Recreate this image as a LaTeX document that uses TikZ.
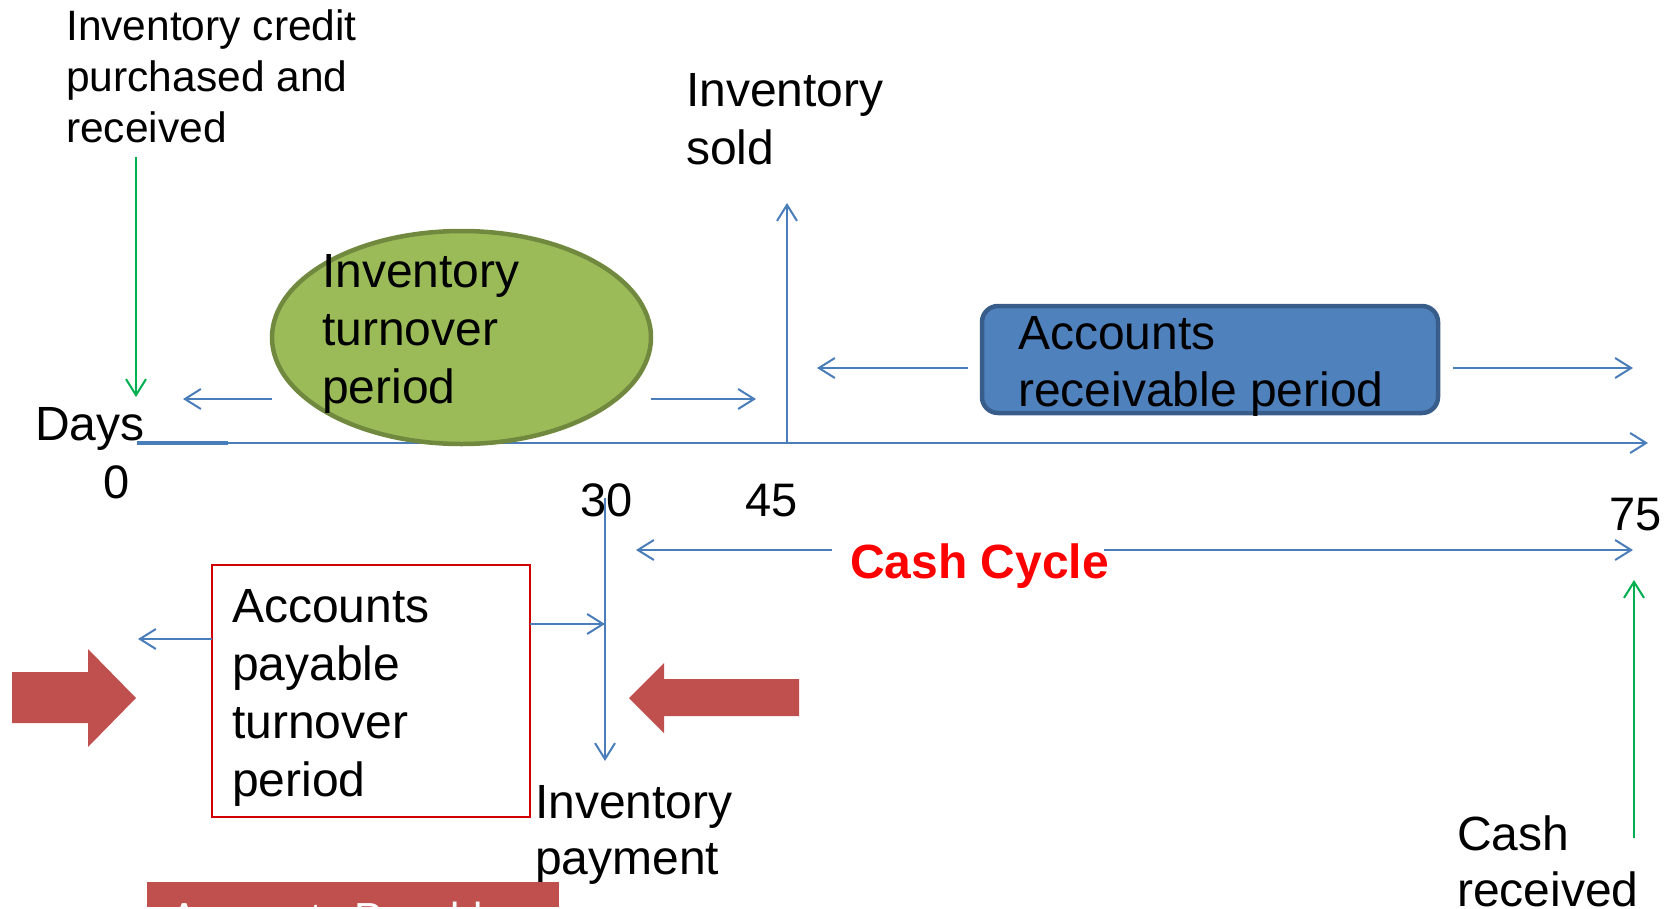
\documentclass[tikz,border=0pt]{standalone}
\usepackage{fontspec}
\setmainfont{Liberation Sans}
\usetikzlibrary{arrows.meta,shapes.geometric}

\definecolor{lineblue}{HTML}{4A7EBB}
\definecolor{markgreen}{HTML}{00B050}
\definecolor{olivefill}{HTML}{9BBB59}
\definecolor{olivedraw}{HTML}{71893F}
\definecolor{boxblue}{HTML}{4F81BD}
\definecolor{boxbluedraw}{HTML}{385D8A}
\definecolor{blockred}{HTML}{C0504D}
\definecolor{frame}{HTML}{D00000}

% multi-line labels are placed by the baseline of their last line
\tikzset{
  barb/.tip={Straight Barb[length=16pt,width=20pt]},
  conn/.style={draw=lineblue, line width=2pt, -barb},
  gconn/.style={draw=markgreen, line width=2pt, -barb},
  lbl/.style={inner sep=0pt, anchor=base west, align=left,
              font=\fontsize{48}{58}\selectfont},
  small/.style={lbl, font=\fontsize{42.5}{51}\selectfont},
  num/.style={inner sep=0pt, anchor=base west, font=\fontsize{47}{56}\selectfont},
}

\begin{document}
\begin{tikzpicture}[x=1pt,y=-1pt]
\useasboundingbox (0,0) rectangle (1668,908);
\clip (0,0) rectangle (1668,908);

% time axis
\coordinate (ax0) at (137,443);
\coordinate (axthick) at (228,443);
\coordinate (axend) at (1648,443);
\draw[conn] (ax0) -- (axend);
\draw[draw=lineblue, line width=3.2pt] (ax0) -- (axthick);

% inventory turnover period
\node[ellipse, fill=olivefill, draw=olivedraw, line width=4.5pt,
      minimum width=379pt, minimum height=213pt, inner sep=0pt] (itp) at (461.5,337.5) {};
\node[lbl] (itptext) at (322,403) {Inventory\\turnover\\period};
\coordinate (itpL) at (272,399);
\coordinate (itpLend) at (183,399);
\coordinate (itpR) at (651,399);
\coordinate (itpRend) at (756,399);
\draw[conn] (itpL) -- (itpLend);
\draw[conn] (itpR) -- (itpRend);

% inventory sold
\coordinate (t45) at (787,443);
\coordinate (soldtip) at (787,203);
\draw[conn] (t45) -- (soldtip);
\node[lbl] (sold) at (686,164) {Inventory\\sold};

% accounts receivable period
\node[rectangle, rounded corners=16pt, fill=boxblue, draw=boxbluedraw, line width=4.5pt,
      minimum width=456pt, minimum height=107pt, inner sep=0pt] (arp) at (1210,359.5) {};
\node[lbl, font=\fontsize{48}{57}\selectfont] (arptext) at (1018,406) {Accounts\\receivable period};
\coordinate (arpL) at (968,368);
\coordinate (arpLend) at (817,368);
\coordinate (arpR) at (1453,368);
\coordinate (arpRend) at (1633,368);
\draw[conn] (arpL) -- (arpLend);
\draw[conn] (arpR) -- (arpRend);

% purchase on credit
\node[small] (credit) at (66,142) {Inventory credit\\purchased and\\received};
\coordinate (creditA) at (136,157);
\coordinate (creditB) at (136,397);
\draw[gconn] (creditA) -- (creditB);

% day marks
\node[lbl] (days) at (35,440) {Days};
\node[num] (d0) at (103,498) {0};
\node[num] (d30) at (580,516) {30};
\node[num] (d45) at (745,516) {45};
\node[num] (d75) at (1609,530) {75};

% cash cycle
\node[inner sep=0pt, anchor=base, text=red, font=\bfseries\fontsize{48}{58}\selectfont]
  (cc) at (979.5,578) {Cash Cycle};
\coordinate (ccL) at (832,550);
\coordinate (ccLend) at (636,550);
\coordinate (ccR) at (1104,550);
\coordinate (ccRend) at (1633,550);
\draw[conn] (ccL) -- (ccLend);
\draw[conn] (ccR) -- (ccRend);

% inventory payment
\coordinate (t30) at (605,498);
\coordinate (paytip) at (605,761);
\draw[conn] (t30) -- (paytip);
\node[lbl, font=\fontsize{48}{56}\selectfont] (pay) at (535,874) {Inventory\\payment};

% accounts payable turnover period
\node[rectangle, draw=frame, line width=2pt, minimum width=318pt, minimum height=252pt,
      inner sep=0pt] (aptp) at (371,691) {};
\node[lbl] (aptptext) at (232,796) {Accounts\\payable\\turnover\\period};
\coordinate (aptpL) at (212,639);
\coordinate (aptpLend) at (138,639);
\coordinate (aptpR) at (530,624);
\draw[conn] (aptpL) -- (aptpLend);
\draw[conn] (aptpR) -- (t30 |- aptpR);

% block arrows
\fill[blockred] (12,672) -- (88,672) -- (88,649) -- (136,698) -- (88,747)
  -- (88,723) -- (12,723) -- cycle;
\fill[blockred] (799,679) -- (664,679) -- (664,663) -- (629,698) -- (664,733)
  -- (664,716) -- (799,716) -- cycle;

% cash received
\node[lbl, font=\fontsize{48}{56}\selectfont] (cash) at (1457,906) {Cash\\received};
\coordinate (cashA) at (1634,838);
\coordinate (cashB) at (1634,580);
\draw[gconn] (cashA) -- (cashB);

% accounts payable banner, running off the lower edge
\begin{scope}
  \clip (147,882) rectangle (559,907);
  \fill[blockred] (147,882) rectangle (559,907);
  \node[inner sep=0pt, anchor=base west, text=white, font=\fontsize{42}{50}\selectfont]
    (apbanner) at (170,932) {Accounts Payable};
\end{scope}
\end{tikzpicture}
\end{document}
